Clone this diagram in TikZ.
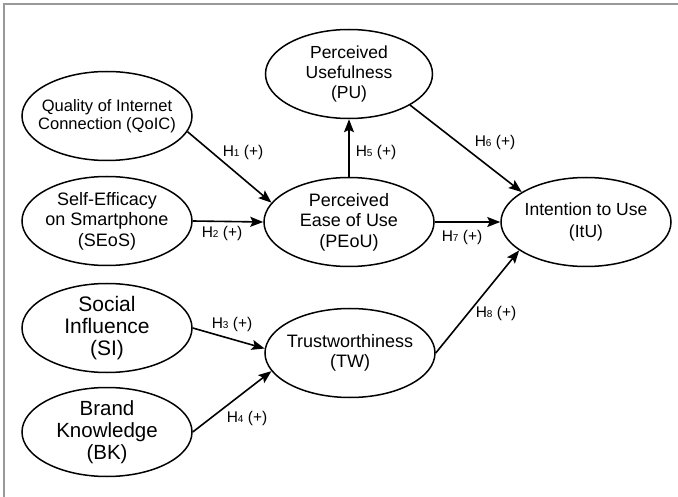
\documentclass[tikz,border=0pt]{standalone}
\usepackage{fontspec}
\setmainfont{Liberation Sans}
\usetikzlibrary{arrows.meta,shapes,positioning,calc}

% hypothesis label: H with small index, then (+)
\newcommand{\hyp}[1]{H\raisebox{-0.8pt}{\fontsize{10}{10}\selectfont #1}\ (+)}

\begin{document}
\begin{tikzpicture}[x=1pt, y=-1pt,
    construct/.style={ellipse, draw, line width=1.5pt, minimum width=170pt,
        minimum height=89pt, inner xsep=-25pt, inner ysep=-8pt, align=center,
        font=\fontsize{18}{20.5}\selectfont},
    link/.style={-{Stealth[length=13pt, width=10pt, inset=2.5pt]}, line width=1.6pt},
    hlabel/.style={font=\fontsize{15.5}{16}\selectfont, inner sep=0pt}]
    \useasboundingbox (0,0) rectangle (678,497);

    % Frame
    \draw[black!40, line width=1.2pt] (4,497) -- (4,4) -- (678,4);

    % Constructs
    \node[construct, font=\fontsize{16.5}{18.5}\selectfont] (qoic) at (107,116) {Quality of Internet\\Connection (QoIC)};
    \node[construct] (seos) at (107,221) {Self-Efficacy\\on Smartphone\\(SEoS)};
    \node[construct, font=\fontsize{21}{21.7}\selectfont] (si) at (107,328) {Social\\Influence\\(SI)};
    \node[construct, font=\fontsize{20.5}{21.7}\selectfont] (bk) at (107,432) {Brand\\Knowledge\\(BK)};
    \node[construct, minimum width=167pt, font=\fontsize{17.5}{20}\selectfont] (pu) at (349,74) {Perceived\\Usefulness\\(PU)};
    \node[construct] (peou) at (349,222) {Perceived\\Ease of Use\\(PEoU)};
    \node[construct] (tw) at (350,353) {Trustworthiness\\(TW)};
    \node[construct, font=\fontsize{17.5}{22}\selectfont] (itu) at (586,222) {Intention to Use\\(ItU)};

    % Paths
    \draw[link] (qoic.-11) -- (peou.166);
    \draw[link] (seos.east) -- (peou.west);
    \draw[link] (peou.north) -- (pu.south);
    \draw[link] (pu.-27) -- (itu.155);
    \draw[link] (peou.east) -- (itu.west);
    \draw[link] (si.east) -- (tw.177);
    \draw[link] (bk.east) -- (tw.193);
    \draw[link] (tw.east) -- (itu.203);

    % Hypotheses
    \node[hlabel] (h1) at (243,152) {\hyp{1}};
    \node[hlabel] (h2) at (222,233) {\hyp{2}};
    \node[hlabel] (h3) at (232,324) {\hyp{3}};
    \node[hlabel] (h4) at (247,418) {\hyp{4}};
    \node[hlabel] (h5) at (376,152) {\hyp{5}};
    \node[hlabel] (h6) at (495,142) {\hyp{6}};
    \node[hlabel] (h7) at (462,237) {\hyp{7}};
    \node[hlabel] (h8) at (496,313) {\hyp{8}};
\end{tikzpicture}
\end{document}
